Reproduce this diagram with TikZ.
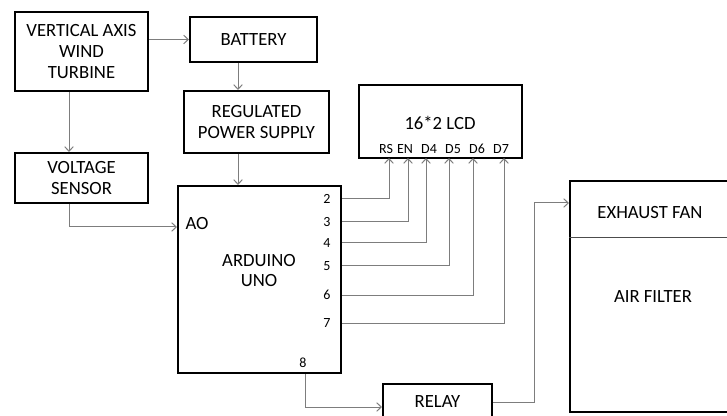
\documentclass[tikz,border=0pt]{standalone}
\usepackage{fontspec}
\setmainfont{Carlito}
\usetikzlibrary{arrows.meta}
\definecolor{wire}{RGB}{125,125,125}
\begin{document}
\begin{tikzpicture}[x=0.75pt,y=-0.75pt,
 box/.style={draw=black,line width=1.5pt,inner sep=0pt,align=center,font=\fontsize{14}{15.75}\selectfont},
 lbl/.style={inner sep=0pt,align=center,font=\fontsize{14}{15}\selectfont},
 pin/.style={inner sep=0pt,font=\fontsize{10.5}{12}\selectfont},
 conn/.style={draw=wire,line width=0.75pt},
 arr/.style={conn,-{Straight Barb[length=3.5pt,width=6.5pt]}},
 divline/.style={draw=black!70,line width=0.75pt}]
\useasboundingbox (0,0) rectangle (727,416);
\clip (0,0) rectangle (727,416);
\fill[white] (0,0) rectangle (727,416);

% boxes
\node[box,minimum width=99.75pt,minimum height=59.25pt] (turb) at (81.5,51.5) {VERTICAL AXIS\\WIND\\TURBINE};
\node[box,minimum width=95.25pt,minimum height=33.75pt] (bat) at (253.5,39.5) {BATTERY};
\node[box,minimum width=108.75pt,minimum height=46.5pt] (reg) at (256.5,122) {REGULATED\\POWER SUPPLY};
\node[box,minimum width=99.75pt,minimum height=37.5pt] (vs) at (81.5,178) {VOLTAGE\\SENSOR};
\node[box,minimum width=122.25pt,minimum height=140.25pt] (ard) at (259.5,279.5) {};
\node[box,minimum width=122.25pt,minimum height=54.75pt] (lcd) at (440.5,121.5) {};
\node[box,minimum width=81.75pt,minimum height=27pt] (relay) at (437.5,402) {RELAY};
\node[box,minimum width=142.5pt,minimum height=173.25pt] (fan) at (665,296.5) {};

% labels
\node[lbl] (ardl) at (259,271) {ARDUINO\\UNO};
\node[lbl] (ao) at (197,224) {AO};
\node[lbl] (lcdl) at (440,123) {16*2 LCD};
\node[lbl] (fanl) at (650,213) {EXHAUST FAN};
\node[lbl] (filt) at (653,297) {AIR FILTER};

\node[pin] (p2) at (327,199) {2};
\node[pin] (p3) at (327,222) {3};
\node[pin] (p4) at (327,243) {4};
\node[pin] (p5) at (327,266) {5};
\node[pin] (p6) at (327,295) {6};
\node[pin] (p7) at (327,323) {7};
\node[pin] (p8) at (303,363) {8};

\node[pin] (rs) at (386,149) {RS};
\node[pin] (en) at (405,149) {EN};
\node[pin] (d4) at (429,149) {D4};
\node[pin] (d5) at (453,149) {D5};
\node[pin] (d6) at (477,149) {D6};
\node[pin] (d7) at (501,149) {D7};

% helper coordinates
\coordinate (bx) at (238,0);
\coordinate (tx) at (69,0);
\coordinate (aoy) at (0,227);
\coordinate (c8) at (305,0);
\coordinate (ry) at (0,407);
\coordinate (fk) at (534,203);
\coordinate (dv) at (0,238);
\coordinate (cRS) at (389,158);
\coordinate (cEN) at (408,158);
\coordinate (cD4) at (426,158);
\coordinate (cD5) at (449,158);
\coordinate (cD6) at (473,158);
\coordinate (cD7) at (504,158);

% connectors
\draw[arr] (turb.east |- bat.west) -- (bat.west);
\draw[arr] (bat.south -| bx) -- (reg.north -| bx);
\draw[arr] (reg.south -| bx) -- (ard.north -| bx);
\draw[arr] (turb.south -| tx) -- (vs.north -| tx);
\draw[arr] (vs.south -| tx) |- (ard.west |- aoy);

\draw[arr] (ard.east |- p2) -| (cRS);
\draw[arr] (ard.east |- p3) -| (cEN);
\draw[arr] (ard.east |- p4) -| (cD4);
\draw[arr] (ard.east |- p5) -| (cD5);
\draw[arr] (ard.east |- p6) -| (cD6);
\draw[arr] (ard.east |- p7) -| (cD7);

\draw[arr] (ard.south -| c8) |- (relay.west |- ry);
\draw[arr] (relay.east) -| (fk) -- (fan.west |- fk);

\draw[divline] (fan.west |- dv) -- (fan.east |- dv);
\end{tikzpicture}
\end{document}
